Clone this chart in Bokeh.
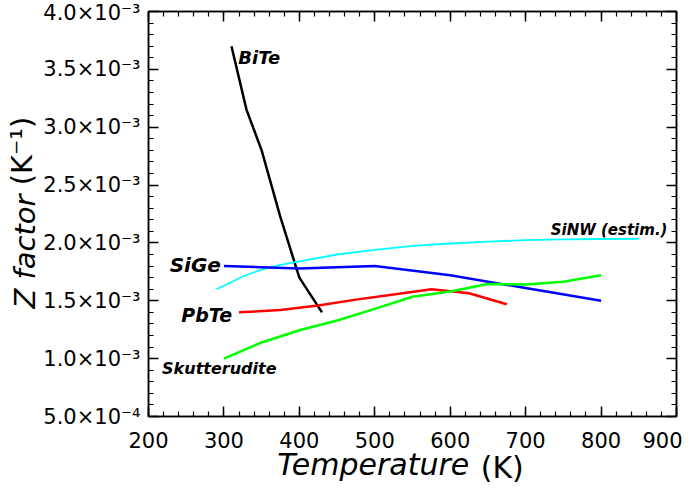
import math
from bokeh.plotting import figure
from bokeh.models import Range1d, FixedTicker, LinearAxis, Label, CustomJSTickFormatter
from bokeh.embed import file_html
from bokeh.resources import INLINE

# ---- data ----
bite_T = [310, 330, 350, 375, 400, 430]
bite_Z = [3.70e-3, 3.15e-3, 2.80e-3, 2.22e-3, 1.70e-3, 1.40e-3]

sinw_T = [290, 300, 325, 350, 375, 400, 450, 500, 550, 600, 650, 700, 750, 800, 850]
sinw_Z = [1.60e-3, 1.63e-3, 1.71e-3, 1.77e-3, 1.81e-3, 1.84e-3, 1.90e-3, 1.94e-3,
          1.975e-3, 1.995e-3, 2.012e-3, 2.024e-3, 2.03e-3, 2.034e-3, 2.035e-3]

sige_T = [300, 400, 500, 600, 700, 800]
sige_Z = [1.80e-3, 1.78e-3, 1.80e-3, 1.72e-3, 1.61e-3, 1.50e-3]

pbte_T = [320, 375, 425, 475, 525, 575, 625, 675]
pbte_Z = [1.40e-3, 1.42e-3, 1.46e-3, 1.51e-3, 1.555e-3, 1.60e-3, 1.565e-3, 1.47e-3]

skut_T = [300, 350, 400, 450, 500, 550, 600, 650, 700, 750, 800]
skut_Z = [1.00e-3, 1.14e-3, 1.245e-3, 1.33e-3, 1.43e-3, 1.535e-3, 1.58e-3, 1.645e-3,
          1.64e-3, 1.665e-3, 1.72e-3]

x_major = [200, 300, 400, 500, 600, 700, 800, 900]
x_minor = list(range(200, 901, 20))
y_major = [0.5e-3, 1.0e-3, 1.5e-3, 2.0e-3, 2.5e-3, 3.0e-3, 3.5e-3, 4.0e-3]
y_minor = [k * 1e-4 for k in range(5, 41)]

x_title_italic = "Temperature"
x_title_unit = "(K)"
y_title_italic = "Z factor"
y_title_unit = "(K\u207b\u00b9)"

FONT = "DejaVu Sans"

p = figure(frame_width=528, frame_height=405,
           x_range=Range1d(200, 900), y_range=Range1d(0.5e-3, 4.0e-3),
           output_backend="svg", toolbar_location=None,
           min_border_left=148, min_border_right=6, min_border_top=11, min_border_bottom=64)
p.background_fill_color = "white"
p.border_fill_color = "white"
p.xgrid.visible = False
p.ygrid.visible = False
p.outline_line_color = "black"
p.outline_line_width = 1.5

fmt = CustomJSTickFormatter(code="""
const sup = {"-":"\u207b","0":"\u2070","1":"\u00b9","2":"\u00b2","3":"\u00b3","4":"\u2074",
             "5":"\u2075","6":"\u2076","7":"\u2077","8":"\u2078","9":"\u2079"};
let e = Math.floor(Math.log10(Math.abs(tick)) + 1e-9);
let m = tick / Math.pow(10, e);
if (m >= 9.995) { m /= 10; e += 1; }
const es = String(e).split("").map(c => sup[c]).join("");
return m.toFixed(1) + "\u00d710" + es;
""")

def style_axis(ax, labels=True):
    ax.axis_line_width = 1.5
    ax.axis_line_color = "black"
    ax.major_tick_in = 10
    ax.major_tick_out = 0
    ax.minor_tick_in = 5
    ax.minor_tick_out = 0
    ax.major_tick_line_width = 1.5
    ax.minor_tick_line_width = 1.2
    ax.major_tick_line_color = "black"
    ax.minor_tick_line_color = "black"
    ax.major_label_text_font = FONT
    ax.major_label_text_color = "black"
    if labels:
        ax.major_label_text_font_size = "21px"
    else:
        ax.major_label_text_font_size = "0px"
        ax.major_label_standoff = 0

xt = FixedTicker(ticks=x_major, minor_ticks=x_minor)
yt = FixedTicker(ticks=y_major, minor_ticks=y_minor)

p.xaxis.ticker = xt
p.yaxis.ticker = yt
p.yaxis.formatter = fmt
style_axis(p.xaxis[0])
style_axis(p.yaxis[0])
p.xaxis.major_label_standoff = 15
p.yaxis.major_label_standoff = 8

top = LinearAxis(ticker=xt, formatter=CustomJSTickFormatter(code="return '';"))
right = LinearAxis(ticker=yt, formatter=CustomJSTickFormatter(code="return '';"))
style_axis(top, labels=False)
style_axis(right, labels=False)
p.add_layout(top, "above")
p.add_layout(right, "right")

# ---- axis titles: tick-less axes whose single tick label is the title part ----
def title_axis(tick, text, style, standoff, size, vertical=False):
    ax = LinearAxis(ticker=FixedTicker(ticks=[tick], minor_ticks=[]),
                    formatter=CustomJSTickFormatter(args=dict(t=text), code="return t;"))
    ax.axis_line_color = None
    ax.major_tick_line_color = None
    ax.minor_tick_line_color = None
    ax.major_tick_in = 0
    ax.major_tick_out = 0
    ax.minor_tick_in = 0
    ax.minor_tick_out = 0
    ax.major_label_text_font = FONT
    ax.major_label_text_font_size = size
    ax.major_label_text_font_style = style
    ax.major_label_text_color = "black"
    ax.major_label_standoff = standoff
    if vertical:
        ax.major_label_orientation = "vertical"
    return ax

# x title
p.add_layout(title_axis(498, x_title_italic, "italic", -4, "30px"), "below")
p.add_layout(title_axis(669, x_title_unit, "normal", -35, "30px"), "below")
# y title
p.add_layout(title_axis(1.926e-3, y_title_italic, "italic", -2, "29px", vertical=True), "left")
p.add_layout(title_axis(2.794e-3, y_title_unit, "normal", -34, "29px", vertical=True), "left")

# ---- lines ----
p.line(bite_T, bite_Z, line_color="black", line_width=2.5)
p.line(sinw_T, sinw_Z, line_color="#00ffff", line_width=1.8)
p.line(sige_T, sige_Z, line_color="#0000ff", line_width=2.5)
p.line(pbte_T, pbte_Z, line_color="#ff0000", line_width=2.5)
p.line(skut_T, skut_Z, line_color="#00ff00", line_width=2.5)

# ---- series labels ----
def lab(x, y, t, size, align):
    p.add_layout(Label(x=x, y=y, text=t, text_font=FONT, text_font_size=size,
                       text_font_style="bold italic", text_color="black",
                       text_align=align, text_baseline="middle"))

lab(319, 3.60e-3, "BiTe", "18px", "left")
lab(296, 1.805e-3, "SiGe", "20px", "right")
lab(311, 1.38e-3, "PbTe", "19px", "right")
lab(218, 0.915e-3, "Skutterudite", "16px", "left")
lab(888, 2.116e-3, "SiNW (estim.)", "15px", "right")

open("out.html", "w").write(file_html(p, INLINE))
